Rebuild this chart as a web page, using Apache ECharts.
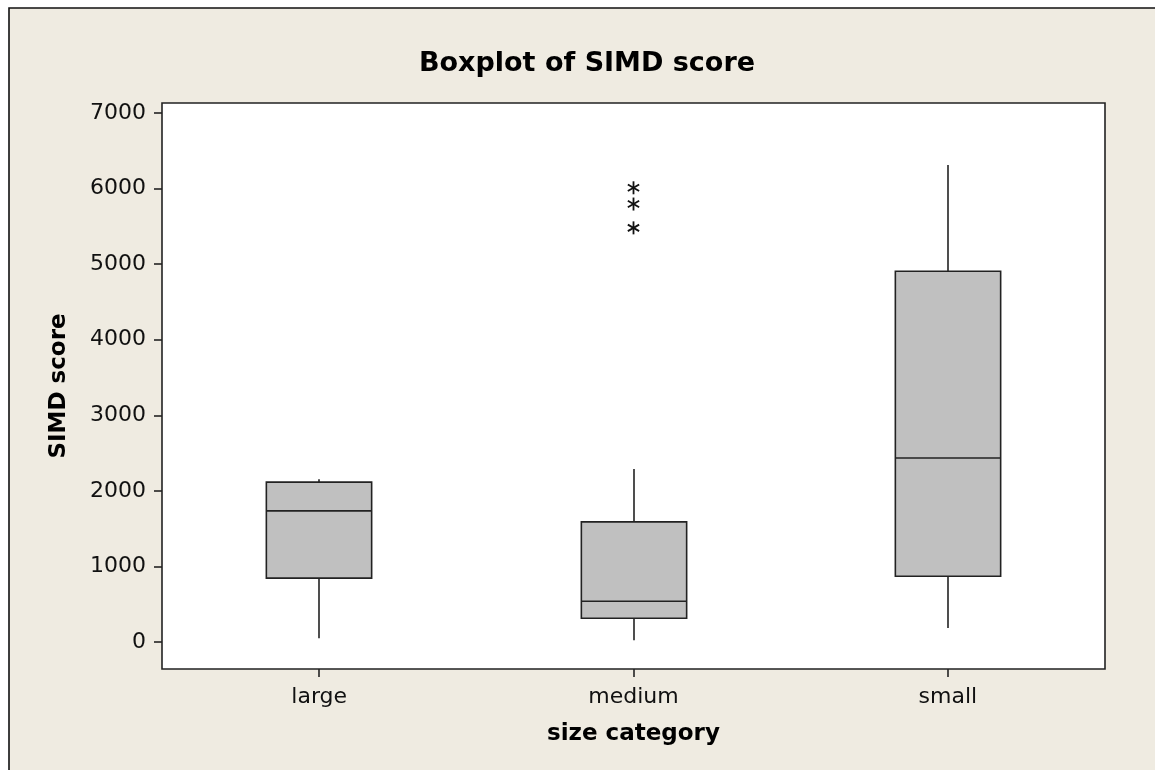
<!DOCTYPE html>
<html>
<head>
<meta charset="utf-8">
<script src="https://cdn.jsdelivr.net/npm/echarts@6/dist/echarts.min.js"></script>
<style>
  html, body { margin: 0; padding: 0; background: #fff; }
  #chart { width: 1155px; height: 770px; }
</style>
</head>
<body>
<div id="chart"></div>
<script>
// data
var categories = ['large', 'medium', 'small'];
var whiskerLow = [50, 25, 185];
var q1 = [845, 315, 870];
var median = [1735, 540, 2435];
var q3 = [2115, 1590, 4905];
var whiskerHigh = [2155, 2290, 6310];
// outliers: [category index, value]
var outliers = [[1, 6010], [1, 5795], [1, 5480]];
var yTicks = [0, 1000, 2000, 3000, 4000, 5000, 6000, 7000];

var boxData = categories.map(function (c, i) {
    return [i, whiskerLow[i], q1[i], median[i], q3[i], whiskerHigh[i]];
});

var chart = echarts.init(document.getElementById('chart'));

function renderBox(params, api) {
    var x = api.value(0);
    var pLow = api.coord([x, api.value(1)]);
    var pQ1 = api.coord([x, api.value(2)]);
    var pMed = api.coord([x, api.value(3)]);
    var pQ3 = api.coord([x, api.value(4)]);
    var pHigh = api.coord([x, api.value(5)]);
    var w = api.size([1, 0])[0] * 0.335;
    var cx = Math.round(pQ1[0]);
    var line = { stroke: '#222', lineWidth: 1.6 };
    return {
        type: 'group',
        children: [
            { type: 'line', shape: { x1: cx, y1: pHigh[1], x2: cx, y2: pQ3[1] }, style: line },
            { type: 'line', shape: { x1: cx, y1: pQ1[1], x2: cx, y2: pLow[1] }, style: line },
            { type: 'rect', shape: { x: cx - w / 2, y: pQ3[1], width: w, height: pQ1[1] - pQ3[1] },
              style: { fill: '#c0c0c0', stroke: '#222', lineWidth: 1.6 } },
            { type: 'line', shape: { x1: cx - w / 2, y1: pMed[1], x2: cx + w / 2, y2: pMed[1] }, style: line }
        ]
    };
}

// minitab style asterisk for outliers
function renderStar(params, api) {
    var p = api.coord([api.value(0), api.value(1)]);
    var r = 6.5;
    var s = { stroke: '#111', lineWidth: 1.8 };
    var d = r * 0.87;
    return {
        type: 'group',
        children: [
            { type: 'line', shape: { x1: p[0], y1: p[1] - r, x2: p[0], y2: p[1] + r }, style: s },
            { type: 'line', shape: { x1: p[0] - d, y1: p[1] - r / 2, x2: p[0] + d, y2: p[1] + r / 2 }, style: s },
            { type: 'line', shape: { x1: p[0] - d, y1: p[1] + r / 2, x2: p[0] + d, y2: p[1] - r / 2 }, style: s }
        ]
    };
}

var option = {
    backgroundColor: '#fff',
    animation: false,
    textStyle: { fontFamily: 'DejaVu Sans' },
    graphic: [{
        type: 'rect',
        z: -100,
        shape: { x: 9, y: 8, width: 1170, height: 790 },
        style: { fill: '#efebe1', stroke: '#111', lineWidth: 1.6 }
    }],
    title: {
        text: 'Boxplot of SIMD score',
        left: 582,
        top: 45,
        textAlign: 'center',
        textStyle: { fontFamily: 'DejaVu Sans', fontWeight: 'bold', fontSize: 27, color: '#000' }
    },
    grid: {
        left: 162, top: 103, right: 50, bottom: 101,
        show: true, backgroundColor: '#fff', borderColor: '#222', borderWidth: 1.6
    },
    xAxis: {
        type: 'category',
        data: categories,
        boundaryGap: true,
        name: 'size category',
        nameLocation: 'middle',
        nameGap: 54,
        nameTextStyle: { fontFamily: 'DejaVu Sans', fontWeight: 'bold', fontSize: 23, color: '#000' },
        axisLine: { show: false, onZero: false },
        axisTick: { show: true, alignWithLabel: true, length: 8, lineStyle: { color: '#222', width: 1.6 } },
        axisLabel: { fontSize: 22, color: '#111', margin: 17 },
        splitLine: { show: false }
    },
    yAxis: {
        type: 'value',
        min: -357,
        max: 7132,
        name: 'SIMD score',
        nameLocation: 'middle',
        nameGap: 91,
        nameTextStyle: { fontFamily: 'DejaVu Sans', fontWeight: 'bold', fontSize: 23, color: '#000' },
        axisLine: { show: false },
        axisTick: { show: true, length: 8, customValues: yTicks, lineStyle: { color: '#222', width: 1.6 } },
        axisLabel: { fontSize: 22, color: '#111', margin: 16, customValues: yTicks,
            formatter: function (v) { return String(v); } },
        splitLine: { show: false }
    },
    series: [{
        type: 'custom',
        renderItem: renderBox,
        data: boxData,
        encode: { x: 0, y: [1, 2, 3, 4, 5] }
    }, {
        type: 'custom',
        renderItem: renderStar,
        data: outliers,
        encode: { x: 0, y: 1 }
    }]
};

chart.setOption(option);
</script>
</body>
</html>
